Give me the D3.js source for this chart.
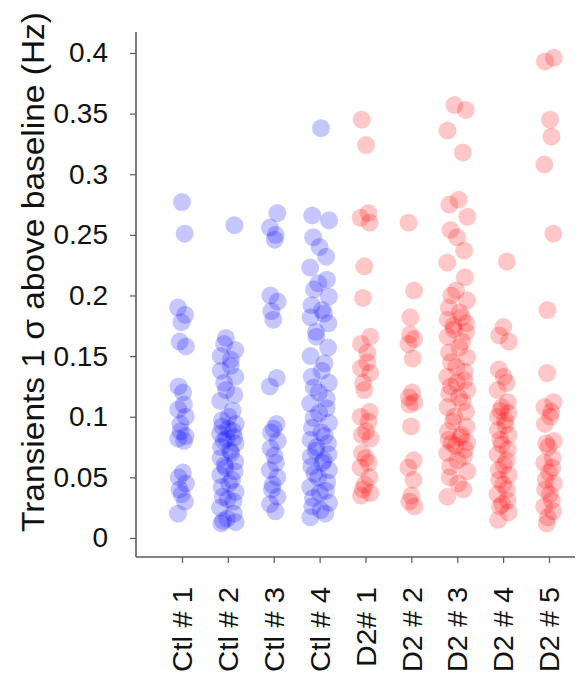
<!DOCTYPE html>
<html>
<head>
<meta charset="utf-8">
<script src="https://cdnjs.cloudflare.com/ajax/libs/d3/7.8.5/d3.min.js"></script>
<style>
    body { margin: 0; background: #fff; }
    text { font-family: "Liberation Sans", Arial, sans-serif; fill: #111; }
</style>
</head>
<body>
<div id="chart-area"></div>
<script>

// Groups (x categories) and the colour family of each
let groups = ["Ctl # 1", "Ctl # 2", "Ctl # 3", "Ctl # 4", "D2# 1", "D2 # 2", "D2 # 3", "D2 # 4", "D2 # 5"];
let groupType = ["ctl", "ctl", "ctl", "ctl", "d2", "d2", "d2", "d2", "d2"];

// Transient rates (Hz)
let ctl1 = [0.277, 0.251, 0.19, 0.184, 0.178, 0.162, 0.158, 0.125, 0.12, 0.11, 0.106, 0.1, 0.094, 0.088, 0.084, 0.082, 0.08,
    0.054, 0.05, 0.045, 0.04, 0.036, 0.03, 0.02];
let ctl2 = [0.258, 0.165, 0.16, 0.155, 0.15, 0.147, 0.142, 0.138, 0.133, 0.128, 0.122, 0.118, 0.113, 0.105, 0.1, 0.097, 0.094,
    0.092, 0.09, 0.088, 0.086, 0.083, 0.082, 0.08, 0.078, 0.075, 0.072, 0.07, 0.066, 0.063, 0.06, 0.058, 0.055, 0.052, 0.048,
    0.045, 0.042, 0.038, 0.034, 0.032, 0.03, 0.025, 0.02, 0.016, 0.014, 0.013, 0.012];
let ctl3 = [0.268, 0.256, 0.25, 0.246, 0.2, 0.195, 0.187, 0.18, 0.132, 0.125, 0.094, 0.09, 0.087, 0.08, 0.074, 0.068, 0.062,
    0.056, 0.05, 0.044, 0.04, 0.034, 0.028, 0.022];
let ctl4 = [0.338, 0.266, 0.262, 0.248, 0.24, 0.232, 0.223, 0.213, 0.21, 0.205, 0.199, 0.192, 0.188, 0.185, 0.182, 0.177, 0.17,
    0.166, 0.157, 0.15, 0.144, 0.138, 0.133, 0.128, 0.124, 0.12, 0.115, 0.111, 0.107, 0.103, 0.099, 0.095, 0.091, 0.087, 0.084,
    0.081, 0.078, 0.075, 0.072, 0.069, 0.067, 0.064, 0.062, 0.059, 0.056, 0.053, 0.05, 0.046, 0.042, 0.039, 0.037, 0.033, 0.029,
    0.026, 0.023, 0.02, 0.017];
let d2n1 = [0.345, 0.324, 0.268, 0.264, 0.26, 0.224, 0.198, 0.166, 0.16, 0.153, 0.145, 0.14, 0.136, 0.128, 0.122, 0.104, 0.1,
    0.096, 0.088, 0.085, 0.082, 0.07, 0.066, 0.062, 0.058, 0.05, 0.044, 0.04, 0.037, 0.035];
let d2n2 = [0.26, 0.204, 0.182, 0.168, 0.164, 0.16, 0.148, 0.12, 0.116, 0.112, 0.11, 0.092, 0.064, 0.058, 0.048, 0.035, 0.03, 0.026];
let d2n3 = [0.357, 0.353, 0.336, 0.318, 0.279, 0.275, 0.265, 0.254, 0.248, 0.237, 0.227, 0.215, 0.204, 0.2, 0.196, 0.19, 0.186,
    0.182, 0.18, 0.177, 0.175, 0.172, 0.17, 0.166, 0.162, 0.157, 0.153, 0.149, 0.145, 0.141, 0.137, 0.133, 0.13, 0.128, 0.125,
    0.122, 0.119, 0.116, 0.112, 0.108, 0.104, 0.1, 0.096, 0.092, 0.088, 0.085, 0.083, 0.081, 0.079, 0.078, 0.076, 0.073, 0.07,
    0.067, 0.064, 0.059, 0.055, 0.05, 0.045, 0.04, 0.034];
let d2n4 = [0.228, 0.174, 0.167, 0.162, 0.139, 0.133, 0.128, 0.122, 0.112, 0.108, 0.105, 0.103, 0.1, 0.097, 0.093, 0.089, 0.085,
    0.081, 0.077, 0.073, 0.069, 0.064, 0.06, 0.056, 0.052, 0.048, 0.044, 0.04, 0.036, 0.031, 0.028, 0.026, 0.021, 0.015];
let d2n5 = [0.396, 0.393, 0.345, 0.331, 0.308, 0.251, 0.188, 0.136, 0.112, 0.108, 0.104, 0.1, 0.094, 0.08, 0.078, 0.075, 0.066,
    0.062, 0.058, 0.054, 0.048, 0.045, 0.04, 0.036, 0.031, 0.026, 0.022, 0.017, 0.012];

let seriesValues = [ctl1, ctl2, ctl3, ctl4, d2n1, d2n2, d2n3, d2n4, d2n5];

// Y ticks
let yTicks = [0, 0.05, 0.1, 0.15, 0.2, 0.25, 0.3, 0.35, 0.4];
let yTitle = "Transients 1 \u03c3 above baseline (Hz)";


class StripChart {

    constructor(_parentElement) {
        this.parentElement = _parentElement;
        this.initVis();
    }

    initVis() {
        let vis = this;

        vis.outerWidth = 587;
        vis.outerHeight = 679;
        vis.margin = {top: 32, right: 10, bottom: 122, left: 136};
        vis.width = vis.outerWidth - vis.margin.left - vis.margin.right;
        vis.height = vis.outerHeight - vis.margin.top - vis.margin.bottom;

        vis.svg = d3.select("#" + vis.parentElement).append("svg")
            .attr("width", vis.outerWidth)
            .attr("height", vis.outerHeight)
            .append("g")
            .attr("transform", "translate(" + vis.margin.left + "," + vis.margin.top + ")");

        // y runs a little below zero, like the original axes box
        vis.y = d3.scaleLinear()
            .domain([-0.0157, 0.4173])
            .range([vis.height, 0]);

        vis.x = d3.scalePoint()
            .domain(groups)
            .range([46, 413]);

        vis.colors = {ctl: "#0000ff", d2: "#ff0000"};

        vis.wrangleData();
    }

    wrangleData() {
        let vis = this;

        // one record per dot; a fixed sine pattern spreads dots sideways,
        // wider for the crowded groups
        vis.displayData = [];
        seriesValues.forEach((vals, g) => {
            let spread = Math.min(10, vals.length / 6);
            vals.forEach((v, i) => {
                vis.displayData.push({
                    group: groups[g],
                    type: groupType[g],
                    value: v,
                    dx: spread * Math.sin(i * 2.39 + g)
                });
            });
        });

        vis.updateVis();
    }

    updateVis() {
        let vis = this;
        let axisColor = "#5a5a5a";

        // dots
        vis.svg.append("g")
            .selectAll("circle")
            .data(vis.displayData)
            .enter()
            .append("circle")
            .attr("cx", d => vis.x(d.group) + d.dx)
            .attr("cy", d => vis.y(d.value))
            .attr("r", 9)
            .attr("fill", d => vis.colors[d.type])
            .attr("fill-opacity", 0.22);

        // y axis
        let yAxis = d3.axisLeft(vis.y)
            .tickValues(yTicks)
            .tickFormat(d => d3.format("")(+d.toFixed(2)))
            .tickSize(6)
            .tickSizeOuter(0)
            .tickPadding(22);

        let yg = vis.svg.append("g").attr("class", "y-axis").call(yAxis);
        yg.select(".domain").remove();
        yg.selectAll("line").attr("stroke", axisColor).attr("stroke-width", 1.2);
        yg.selectAll("text")
            .style("font-size", "28px")
            .attr("fill", "#111");

        vis.svg.append("line")
            .attr("x1", 0).attr("x2", 0)
            .attr("y1", 0).attr("y2", vis.height)
            .attr("stroke", axisColor)
            .attr("stroke-width", 1.6);

        // x axis
        let xAxis = d3.axisBottom(vis.x)
            .tickSize(6)
            .tickSizeOuter(0)
            .tickPadding(14);

        let xg = vis.svg.append("g")
            .attr("class", "x-axis")
            .attr("transform", "translate(0," + vis.height + ")")
            .call(xAxis);
        xg.select(".domain").remove();
        xg.selectAll("line").attr("stroke", axisColor).attr("stroke-width", 1.2);
        xg.selectAll("text")
            .style("font-size", "27px")
            .attr("fill", "#111")
            .attr("text-anchor", "end")
            .attr("transform", "rotate(-90)")
            .attr("x", -30)
            .attr("y", 0)
            .attr("dy", "0.36em")
            .attr("textLength", d => d === "D2# 1" ? 80 : 85)
            .attr("lengthAdjust", "spacingAndGlyphs");

        vis.svg.append("line")
            .attr("x1", 0).attr("x2", vis.width - 2)
            .attr("y1", vis.height).attr("y2", vis.height)
            .attr("stroke", axisColor)
            .attr("stroke-width", 1.6);

        // y title
        vis.svg.append("text")
            .attr("transform", "translate(" + (44 - vis.margin.left) + "," + (272 - vis.margin.top) + ") rotate(-90)")
            .attr("text-anchor", "middle")
            .style("font-size", "31px")
            .attr("textLength", 520)
            .attr("lengthAdjust", "spacingAndGlyphs")
            .text(yTitle);
    }
}

new StripChart("chart-area");
</script>
</body>
</html>
